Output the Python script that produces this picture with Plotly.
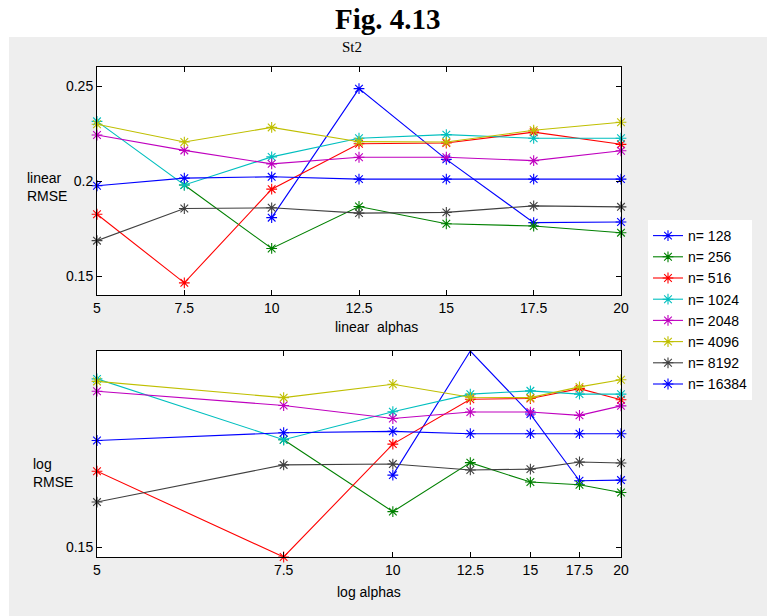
import math
import plotly.graph_objects as go

# Regularisation strengths on the x axis
alphas = [5, 7.5, 10, 12.5, 15, 17.5, 20]
alpha_labels = ["5", "7.5", "10", "12.5", "15", "17.5", "20"]

# Shift applied before the log axis of the lower panel
log_alpha_offset = 2.5

# RMSE per sample size (None = no result for that alpha)
series_names = ["n= 128", "n= 256", "n= 516", "n= 1024",
                "n= 2048", "n= 4096", "n= 8192", "n= 16384"]
rmse_128 = [None, None, 0.1807, 0.2486, 0.2114, 0.1781, 0.1784]
rmse_256 = [None, 0.1979, 0.1645, 0.1866, 0.1775, 0.1763, 0.1728]
rmse_516 = [0.1825, 0.1464, 0.1957, 0.2196, 0.2200, 0.2257, 0.2193]
rmse_1024 = [0.2314, 0.1979, 0.2127, 0.2225, 0.2244, 0.2225, 0.2225]
rmse_2048 = [0.2242, 0.2161, 0.2090, 0.2125, 0.2125, 0.2107, 0.2159]
rmse_4096 = [0.2299, 0.2205, 0.2282, 0.2207, 0.2205, 0.2267, 0.2309]
rmse_8192 = [0.1686, 0.1855, 0.1859, 0.1831, 0.1835, 0.1869, 0.1864]
rmse_16384 = [0.1975, 0.2015, 0.2022, 0.2010, 0.2010, 0.2010, 0.2010]
all_series = [rmse_128, rmse_256, rmse_516, rmse_1024,
              rmse_2048, rmse_4096, rmse_8192, rmse_16384]

# Classic MATLAB colour order, cycling back to blue for the 8th line
colors = ["#0000FF", "#008000", "#FF0000", "#00BFBF",
          "#BF00BF", "#BFBF00", "#404040", "#0000FF"]

lin_yticks = [0.15, 0.2, 0.25]
lin_yticklabels = ["0.15", "0.2", "0.25"]
log_yticks = [0.15]
log_yticklabels = ["0.15"]

W, H = 767, 616
L, R, T, B = 97, 146, 67, 59
PW, PH = W - L - R, H - T - B


def px_x(x):
    return (x - L) / PW


def px_y(y):
    return (H - B - y) / PH


FONT = "Liberation Sans"
fig = go.Figure()

log_x = [a - log_alpha_offset for a in alphas]

for name, vals, col in zip(series_names, all_series, colors):
    style = dict(mode="lines+markers", line=dict(color=col, width=1.1),
                 marker=dict(symbol="asterisk-open", size=9,
                             line=dict(color=col, width=1.1)),
                 cliponaxis=False, connectgaps=False)
    fig.add_trace(go.Scatter(x=alphas, y=vals, name=name,
                             xaxis="x", yaxis="y", **style))
    fig.add_trace(go.Scatter(x=log_x, y=vals, name=name, showlegend=False,
                             xaxis="x2", yaxis="y2", **style))

flat = [v for s in all_series for v in s if v is not None]
ymin, ymax = min(flat), max(flat)

axis_common = dict(showline=True, linecolor="black", linewidth=1,
                   mirror="ticks", ticks="inside", ticklen=5,
                   tickcolor="black", showgrid=False, zeroline=False,
                   tickfont=dict(family=FONT, size=14, color="black"))

fig.update_layout(
    width=W, height=H, autosize=False,
    margin=dict(l=L, r=R, t=T, b=B, pad=0),
    paper_bgcolor="#EEEEEE", plot_bgcolor="white",
    xaxis=dict(domain=[0, 1], anchor="y", range=[5, 20],
               tickvals=alphas, ticktext=alpha_labels, **axis_common),
    yaxis=dict(domain=[px_y(295), 1], anchor="x", range=[0.14, 0.26],
               tickvals=lin_yticks, ticktext=lin_yticklabels, **axis_common),
    xaxis2=dict(domain=[0, 1], anchor="y2", type="log",
                range=[math.log10(alphas[0] - log_alpha_offset),
                       math.log10(alphas[-1] - log_alpha_offset)],
                tickvals=log_x, ticktext=alpha_labels, **axis_common),
    yaxis2=dict(domain=[0, px_y(351)], anchor="x2", type="log",
                range=[math.log10(ymin), math.log10(ymax)],
                tickvals=log_yticks, ticktext=log_yticklabels, **axis_common),
    showlegend=True,
    legend=dict(x=px_x(648), xanchor="left", y=px_y(220), yanchor="top",
                bgcolor="white", borderwidth=0, tracegroupgap=0,
                font=dict(family=FONT, size=14, color="black")),
    shapes=[
        # white strip above the figure window and at its left edge
        dict(type="rect", xref="paper", yref="paper", layer="below",
             x0=px_x(0), x1=px_x(W), y0=px_y(37), y1=px_y(0),
             fillcolor="white", line=dict(width=0)),
        dict(type="rect", xref="paper", yref="paper", layer="below",
             x0=px_x(0), x1=px_x(9), y0=px_y(H), y1=px_y(37),
             fillcolor="white", line=dict(width=0)),
    ],
)

ann = [
    dict(text="<b>Fig. 4.13</b>", x=px_x(388), y=px_y(19),
         font=dict(family="Liberation Serif", size=29, color="black")),
    dict(text="St2", x=px_x(352), y=px_y(47),
         font=dict(family="Liberation Serif", size=15, color="black")),
    dict(text="linear<br>RMSE", x=px_x(25), y=px_y(187), xanchor="left",
         align="left", font=dict(family=FONT, size=14, color="black")),
    dict(text="log<br>RMSE", x=px_x(31), y=px_y(473), xanchor="left",
         align="left", font=dict(family=FONT, size=14, color="black")),
    dict(text="linear\u00a0\u00a0alphas", x=px_x(376), y=px_y(327),
         font=dict(family=FONT, size=14, color="black")),
    dict(text="log alphas", x=px_x(369), y=px_y(592),
         font=dict(family=FONT, size=14, color="black")),
]
for a in ann:
    base = dict(xref="paper", yref="paper", showarrow=False,
                xanchor="center", yanchor="middle")
    base.update(a)
    fig.add_annotation(**base)

fig.write_html("out.html")
